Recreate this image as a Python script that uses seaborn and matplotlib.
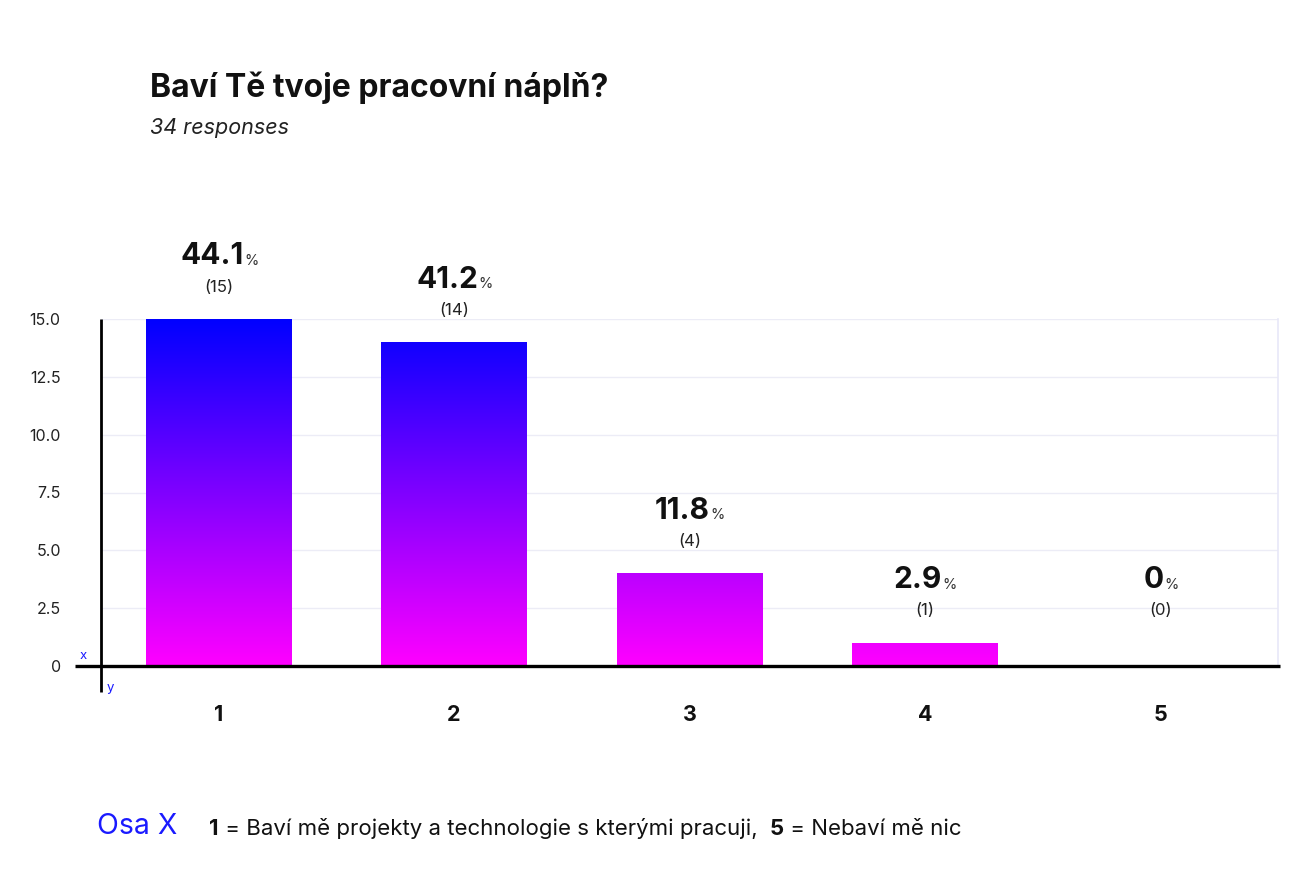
import matplotlib

matplotlib.use("Agg")

import matplotlib.pyplot as plt
from matplotlib.colors import LinearSegmentedColormap
import numpy as np
import pandas as pd
import seaborn as sns

FONT = "Inter"

categories = ["1", "2", "3", "4", "5"]
counts = [15, 14, 4, 1, 0]
percents = ["44.1", "41.2", "11.8", "2.9", "0"]
y_ticks = [0, 2.5, 5.0, 7.5, 10.0, 12.5, 15.0]
y_tick_labels = ["0", "2.5", "5.0", "7.5", "10.0", "12.5", "15.0"]

TITLE = "Baví Tě tvoje pracovní náplň?"
SUBTITLE = "34 responses"

sns.set_theme(style="white")
plt.rcParams["font.family"] = [FONT, "DejaVu Sans"]

df = pd.DataFrame({"answer": categories, "count": counts})

fig = plt.figure(figsize=(13.14, 8.9), dpi=100)
ax = fig.add_axes([101 / 1314, 1 - 666 / 890, 1177 / 1314, 347 / 890])

sns.barplot(data=df, x="answer", y="count", ax=ax, width=0.62, color="#8000ff")

ymax = 15.0
cmap = LinearSegmentedColormap.from_list("grad", ["#ff00ff", "#0000ff"])
grad = np.linspace(0, 1, 256).reshape(-1, 1)
for patch in ax.patches:
    x0 = patch.get_x()
    w = patch.get_width()
    patch.set_facecolor("none")
    patch.set_edgecolor("none")
    im = ax.imshow(grad, cmap=cmap, origin="lower", aspect="auto",
                   extent=(x0, x0 + w, 0, ymax), zorder=2)
    im.set_clip_path(patch)

ax.set_xlim(-0.5, len(categories) - 0.5)
ax.set_ylim(0, ymax)

# grid
ax.set_yticks(y_ticks)
ax.set_yticklabels(y_tick_labels, fontsize=11.5, color="#222222")
ax.grid(axis="y", color="#ececf6", linewidth=1)
ax.set_axisbelow(True)
ax.tick_params(axis="y", length=0, pad=29)
ax.tick_params(axis="x", length=0, pad=28)
for lbl in ax.get_xticklabels():
    lbl.set_fontsize(15.5)
    lbl.set_fontweight("bold")
    lbl.set_color("#111111")
ax.set_xlabel("")
ax.set_ylabel("")

for side in ["top", "left", "bottom"]:
    ax.spines[side].set_visible(False)
ax.spines["right"].set_color("#e8e8f8")
ax.spines["right"].set_linewidth(1.2)

# extended axis lines
ax.plot([-26 / 1177, 1.002], [0, 0], transform=ax.transAxes, color="black",
        lw=2.4, clip_on=False, zorder=5, solid_capstyle="butt")
ax.plot([0, 0], [1, -26 / 347], transform=ax.transAxes, color="black",
        lw=2.0, clip_on=False, zorder=5, solid_capstyle="butt")
ax.text(-21 / 1177, 10 / 347, "x", transform=ax.transAxes, color="#1a1aff",
        fontsize=9.5, ha="left", va="center")
ax.text(6 / 1177, -22 / 347, "y", transform=ax.transAxes, color="#1a1aff",
        fontsize=9.5, ha="left", va="center")

# value labels
for i, (c, p) in enumerate(zip(counts, percents)):
    anchor = max(c, 1)
    ax.annotate(f"({c})", xy=(i, anchor), xytext=(0, 23), textcoords="offset points",
                ha="center", va="center", fontsize=12, color="#222222")
    num = ax.annotate(p, xy=(i, anchor), xytext=(-5, 45), textcoords="offset points",
                      ha="center", va="center", fontsize=21.5, fontweight="bold",
                      color="#111111")
    ax.annotate("%", xy=(1, 0.1), xycoords=num, xytext=(0.5, 0),
                textcoords="offset points", ha="left", va="bottom",
                fontsize=10.5, color="#333333")

# title
fig.text(150 / 1314, 1 - 88 / 890, TITLE, fontsize=23, fontweight="bold",
         color="#111111", ha="left", va="center")
fig.text(150 / 1314, 1 - 128 / 890, SUBTITLE, fontsize=15.5, fontstyle="italic",
         color="#222222", ha="left", va="center")

# footer
osa = fig.text(97 / 1314, 1 - 827 / 890, "Osa X", fontsize=20.5, color="#1a1aff",
               ha="left", va="center")
t1 = ax.annotate("1", xy=(1, 0.05), xycoords=osa, xytext=(23, 0),
                 textcoords="offset points", fontsize=16, fontweight="bold",
                 color="#111111", ha="left", va="bottom")
t2 = ax.annotate(" = Baví mě projekty a technologie s kterými pracuji,  ", xy=(1, 0),
                 xycoords=t1, fontsize=16, color="#111111", ha="left", va="bottom")
t3 = ax.annotate("5", xy=(1, 0), xycoords=t2, fontsize=16, fontweight="bold",
                 color="#111111", ha="left", va="bottom")
ax.annotate(" = Nebaví mě nic", xy=(1, 0), xycoords=t3, fontsize=16,
            color="#111111", ha="left", va="bottom")

fig.savefig("out.png", dpi=100, facecolor="white")
